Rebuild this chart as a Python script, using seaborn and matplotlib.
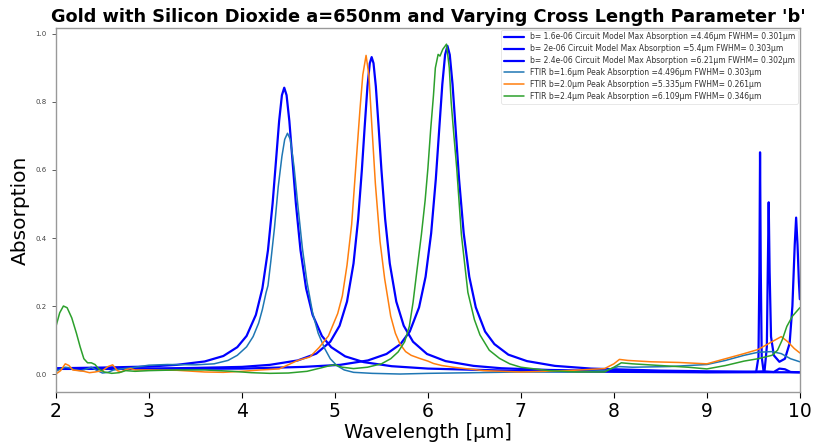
import numpy as np
import pandas as pd
import matplotlib
matplotlib.use("Agg")
import matplotlib.pyplot as plt
import seaborn as sns

# ---------------- data ----------------
title = "Gold with Silicon Dioxide a=650nm and Varying Cross Length Parameter 'b'"
xlabel = "Wavelength [\u03bcm]"
ylabel = "Absorption"

labels = [
    "b= 1.6e-06 Circuit Model Max Absorption =4.46\u03bcm FWHM= 0.301\u03bcm",
    "b= 2e-06 Circuit Model Max Absorption =5.4\u03bcm FWHM= 0.303\u03bcm",
    "b= 2.4e-06 Circuit Model Max Absorption =6.21\u03bcm FWHM= 0.302\u03bcm",
    "FTIR b=1.6\u03bcm Peak Absorption =4.496\u03bcm FWHM= 0.303\u03bcm",
    "FTIR b=2.0\u03bcm Peak Absorption =5.335\u03bcm FWHM= 0.261\u03bcm",
    "FTIR b=2.4\u03bcm Peak Absorption =6.109\u03bcm FWHM= 0.346\u03bcm",
]

model1_x = [2.0, 2.5, 3.0, 3.3, 3.6, 3.8, 3.95, 4.05, 4.15, 4.22, 4.28, 4.33, 4.37, 4.40, 4.43,
            4.455, 4.48, 4.51, 4.54, 4.58, 4.63, 4.69, 4.76, 4.86, 4.96, 5.11, 5.31, 5.61, 6.0,
            7.0, 8.0, 9.0, 9.53, 9.555, 9.565, 9.572, 9.58, 9.59, 9.61, 9.72, 9.78, 9.84, 9.9, 10.0]
model1_y = [0.017, 0.019, 0.022, 0.027, 0.037, 0.053, 0.079, 0.112, 0.174, 0.252, 0.364, 0.502,
            0.640, 0.744, 0.820, 0.842, 0.820, 0.744, 0.640, 0.502, 0.364, 0.252, 0.174, 0.112,
            0.079, 0.052, 0.035, 0.023, 0.016, 0.009, 0.0065, 0.005, 0.006, 0.05, 0.3, 0.652,
            0.3, 0.05, 0.008, 0.006, 0.016, 0.014, 0.006, 0.005]

model2_x = [2.0, 3.0, 3.5, 4.0, 4.3, 4.6, 4.8, 4.95, 5.05, 5.13, 5.2, 5.25, 5.29, 5.32, 5.35,
            5.375, 5.395, 5.415, 5.44, 5.47, 5.5, 5.54, 5.59, 5.66, 5.74, 5.84, 5.99, 6.19,
            6.49, 6.79, 7.3, 8.0, 9.0, 10.0]
model2_y = [0.016, 0.016, 0.018, 0.021, 0.027, 0.040, 0.060, 0.095, 0.142, 0.213, 0.325, 0.456,
            0.601, 0.727, 0.846, 0.914, 0.932, 0.914, 0.846, 0.727, 0.601, 0.456, 0.325, 0.213,
            0.142, 0.095, 0.059, 0.038, 0.024, 0.017, 0.012, 0.0087, 0.006, 0.005]

model3_x = [2.0, 3.0, 4.0, 4.665, 5.055, 5.355, 5.555, 5.705, 5.805, 5.905, 5.975, 6.035, 6.085,
            6.125, 6.155, 6.185, 6.21, 6.235, 6.265, 6.295, 6.335, 6.385, 6.445, 6.515, 6.615,
            6.715, 6.865, 7.065, 7.365, 7.755, 8.5, 9.0, 9.5, 9.62, 9.645, 9.655, 9.665, 9.675,
            9.69, 9.72, 9.78, 9.84, 9.89, 9.92, 9.945, 9.96, 9.975, 9.99, 10.0]
model3_y = [0.015, 0.015, 0.016, 0.021, 0.027, 0.040, 0.059, 0.088, 0.125, 0.196, 0.286, 0.414,
            0.573, 0.733, 0.852, 0.939, 0.965, 0.939, 0.852, 0.733, 0.573, 0.414, 0.286, 0.196,
            0.125, 0.088, 0.057, 0.038, 0.024, 0.016, 0.010, 0.008, 0.007, 0.008, 0.08, 0.3,
            0.505, 0.3, 0.11, 0.055, 0.036, 0.045, 0.09, 0.2, 0.38, 0.46, 0.38, 0.27, 0.22]

ftir1_x = [2.0, 2.05, 2.1, 2.15, 2.2, 2.27, 2.33, 2.38, 2.43, 2.5, 2.56, 2.62, 2.7, 2.8, 2.9,
           3.0, 3.2, 3.5, 3.7, 3.85, 3.95, 4.05, 4.12, 4.18, 4.22, 4.26, 4.28, 4.31, 4.35, 4.39,
           4.43, 4.46, 4.49, 4.52, 4.56, 4.6, 4.65, 4.7, 4.76, 4.82, 4.89, 4.95, 5.02, 5.1, 5.2,
           5.4, 5.7, 6.0, 6.5, 7.0, 7.5, 7.9, 8.05, 8.2, 8.6, 9.0, 9.2, 9.4, 9.55, 9.7, 9.8,
           9.9, 10.0]
ftir1_y = [0.008, 0.015, 0.02, 0.018, 0.012, 0.01, 0.015, 0.02, 0.012, 0.003, 0.005, 0.012,
           0.015, 0.018, 0.022, 0.026, 0.028, 0.027, 0.03, 0.04, 0.055, 0.08, 0.11, 0.15, 0.19,
           0.24, 0.26, 0.33, 0.43, 0.55, 0.64, 0.69, 0.708, 0.69, 0.61, 0.5, 0.37, 0.27, 0.18,
           0.12, 0.075, 0.045, 0.025, 0.012, 0.005, 0.002, 0.0, 0.002, 0.004, 0.006, 0.006,
           0.01, 0.022, 0.02, 0.022, 0.028, 0.04, 0.055, 0.064, 0.066, 0.06, 0.045, 0.036]

ftir2_x = [2.0, 2.05, 2.1, 2.14, 2.18, 2.24, 2.3, 2.36, 2.42, 2.5, 2.56, 2.61, 2.66, 2.7, 2.75,
           2.8, 2.85, 3.0, 3.3, 3.6, 3.8, 4.0, 4.2, 4.4, 4.6, 4.73, 4.83, 4.93, 5.03, 5.08, 5.13,
           5.18, 5.23, 5.27, 5.3, 5.335, 5.365, 5.395, 5.435, 5.485, 5.535, 5.6, 5.65, 5.7,
           5.76, 5.82, 5.91, 6.0, 6.06, 6.15, 6.27, 6.6, 7.0, 7.5, 7.9, 8.0, 8.06, 8.15, 8.4,
           8.7, 9.0, 9.2, 9.4, 9.55, 9.7, 9.8, 9.87, 9.94, 10.0]
ftir2_y = [0.0, 0.01, 0.03, 0.025, 0.012, 0.01, 0.008, 0.004, 0.006, 0.01, 0.022, 0.027, 0.01,
           0.006, 0.013, 0.016, 0.012, 0.012, 0.011, 0.006, 0.005, 0.008, 0.012, 0.015, 0.04,
           0.05, 0.078, 0.112, 0.178, 0.23, 0.32, 0.44, 0.63, 0.78, 0.88, 0.937, 0.88, 0.74,
           0.56, 0.39, 0.28, 0.17, 0.12, 0.088, 0.066, 0.055, 0.046, 0.038, 0.031, 0.025, 0.02,
           0.01, 0.006, 0.01, 0.016, 0.03, 0.043, 0.04, 0.036, 0.034, 0.03, 0.045, 0.06, 0.072,
           0.095, 0.11, 0.095, 0.075, 0.062]

ftir3_x = [2.0, 2.04, 2.08, 2.12, 2.17, 2.22, 2.26, 2.3, 2.34, 2.38, 2.42, 2.46, 2.52, 2.6,
           2.68, 2.75, 2.85, 3.0, 3.3, 3.6, 3.9, 4.1, 4.3, 4.5, 4.7, 4.85, 4.95, 5.0, 5.08, 5.2,
           5.35, 5.5, 5.6, 5.68, 5.75, 5.8, 5.84, 5.88, 5.93, 5.97, 6.0, 6.03, 6.06, 6.08, 6.11,
           6.13, 6.16, 6.2, 6.23, 6.25, 6.28, 6.31, 6.36, 6.43, 6.5, 6.56, 6.66, 6.77, 6.88,
           7.0, 7.3, 7.6, 7.9, 8.0, 8.08, 8.2, 8.5, 8.8, 9.0, 9.2, 9.4, 9.55, 9.7, 9.76, 9.81,
           9.86, 9.92, 10.0]
ftir3_y = [0.14, 0.18, 0.2, 0.195, 0.165, 0.12, 0.08, 0.045, 0.033, 0.033, 0.028, 0.015, 0.006,
           0.002, 0.004, 0.01, 0.008, 0.01, 0.012, 0.012, 0.008, 0.004, 0.002, 0.003, 0.008,
           0.018, 0.025, 0.027, 0.02, 0.016, 0.02, 0.03, 0.045, 0.065, 0.095, 0.14, 0.21, 0.3,
           0.41, 0.51, 0.605, 0.72, 0.82, 0.9, 0.94, 0.935, 0.955, 0.97, 0.9, 0.8, 0.7, 0.605,
           0.41, 0.24, 0.16, 0.115, 0.07, 0.046, 0.03, 0.02, 0.01, 0.006, 0.006, 0.02, 0.033,
           0.03, 0.025, 0.02, 0.015, 0.025, 0.038, 0.045, 0.055, 0.07, 0.1, 0.14, 0.17, 0.195]

xticks = [2, 3, 4, 5, 6, 7, 8, 9, 10]
yticks = [0.0, 0.2, 0.4, 0.6, 0.8, 1.0]

# ---------------- drawing ----------------
sns.set_theme(style="ticks")
plt.rcParams['font.family'] = ['DejaVu Sans']

fig = plt.figure(figsize=(8.17, 4.42), dpi=100)
ax = fig.add_axes([0.0685, 0.113, 0.9105, 0.824])

series = [
    (model1_x, model1_y, "#0000ff", 1.6),
    (model2_x, model2_y, "#0000ff", 1.6),
    (model3_x, model3_y, "#0000ff", 1.6),
    (ftir1_x, ftir1_y, "#1f77b4", 1.1),
    (ftir2_x, ftir2_y, "#ff7f0e", 1.1),
    (ftir3_x, ftir3_y, "#2ca02c", 1.1),
]
for (xs, ys, col, lw), lab in zip(series, labels):
    df = pd.DataFrame({"x": xs, "y": ys})
    sns.lineplot(data=df, x="x", y="y", ax=ax, color=col, linewidth=lw,
                 label=lab, sort=False, estimator=None)

ax.set_xlim(2, 10)
ax.set_ylim(-0.053, 1.018)
ax.set_xticks(xticks)
ax.set_xticklabels([str(t) for t in xticks], fontsize=13.5)
ax.set_yticks(yticks)
ax.set_yticklabels([f"{t:.1f}" for t in yticks], fontsize=5)
ax.tick_params(axis='x', length=4, width=0.8, colors='black')
ax.tick_params(axis='y', length=3, width=0.6, colors='#444444')
for s in ax.spines.values():
    s.set_color('#999999')
    s.set_linewidth(1.0)

ax.set_xlabel(xlabel, fontsize=14, labelpad=1, color='black')
ax.set_ylabel(ylabel, fontsize=14.5, labelpad=4, color='black')
ax.set_title(title, fontsize=12.8, fontweight='bold', pad=4, color='black')

leg = ax.legend(loc='upper right', fontsize=5.5, handlelength=2.6, frameon=True,
                borderaxespad=0.25, labelspacing=0.38, borderpad=0.35)
leg.get_frame().set_edgecolor('#dddddd')
leg.get_frame().set_linewidth(0.6)
for t in leg.get_texts():
    t.set_color('#333333')

fig.savefig("out.png", dpi=100)
